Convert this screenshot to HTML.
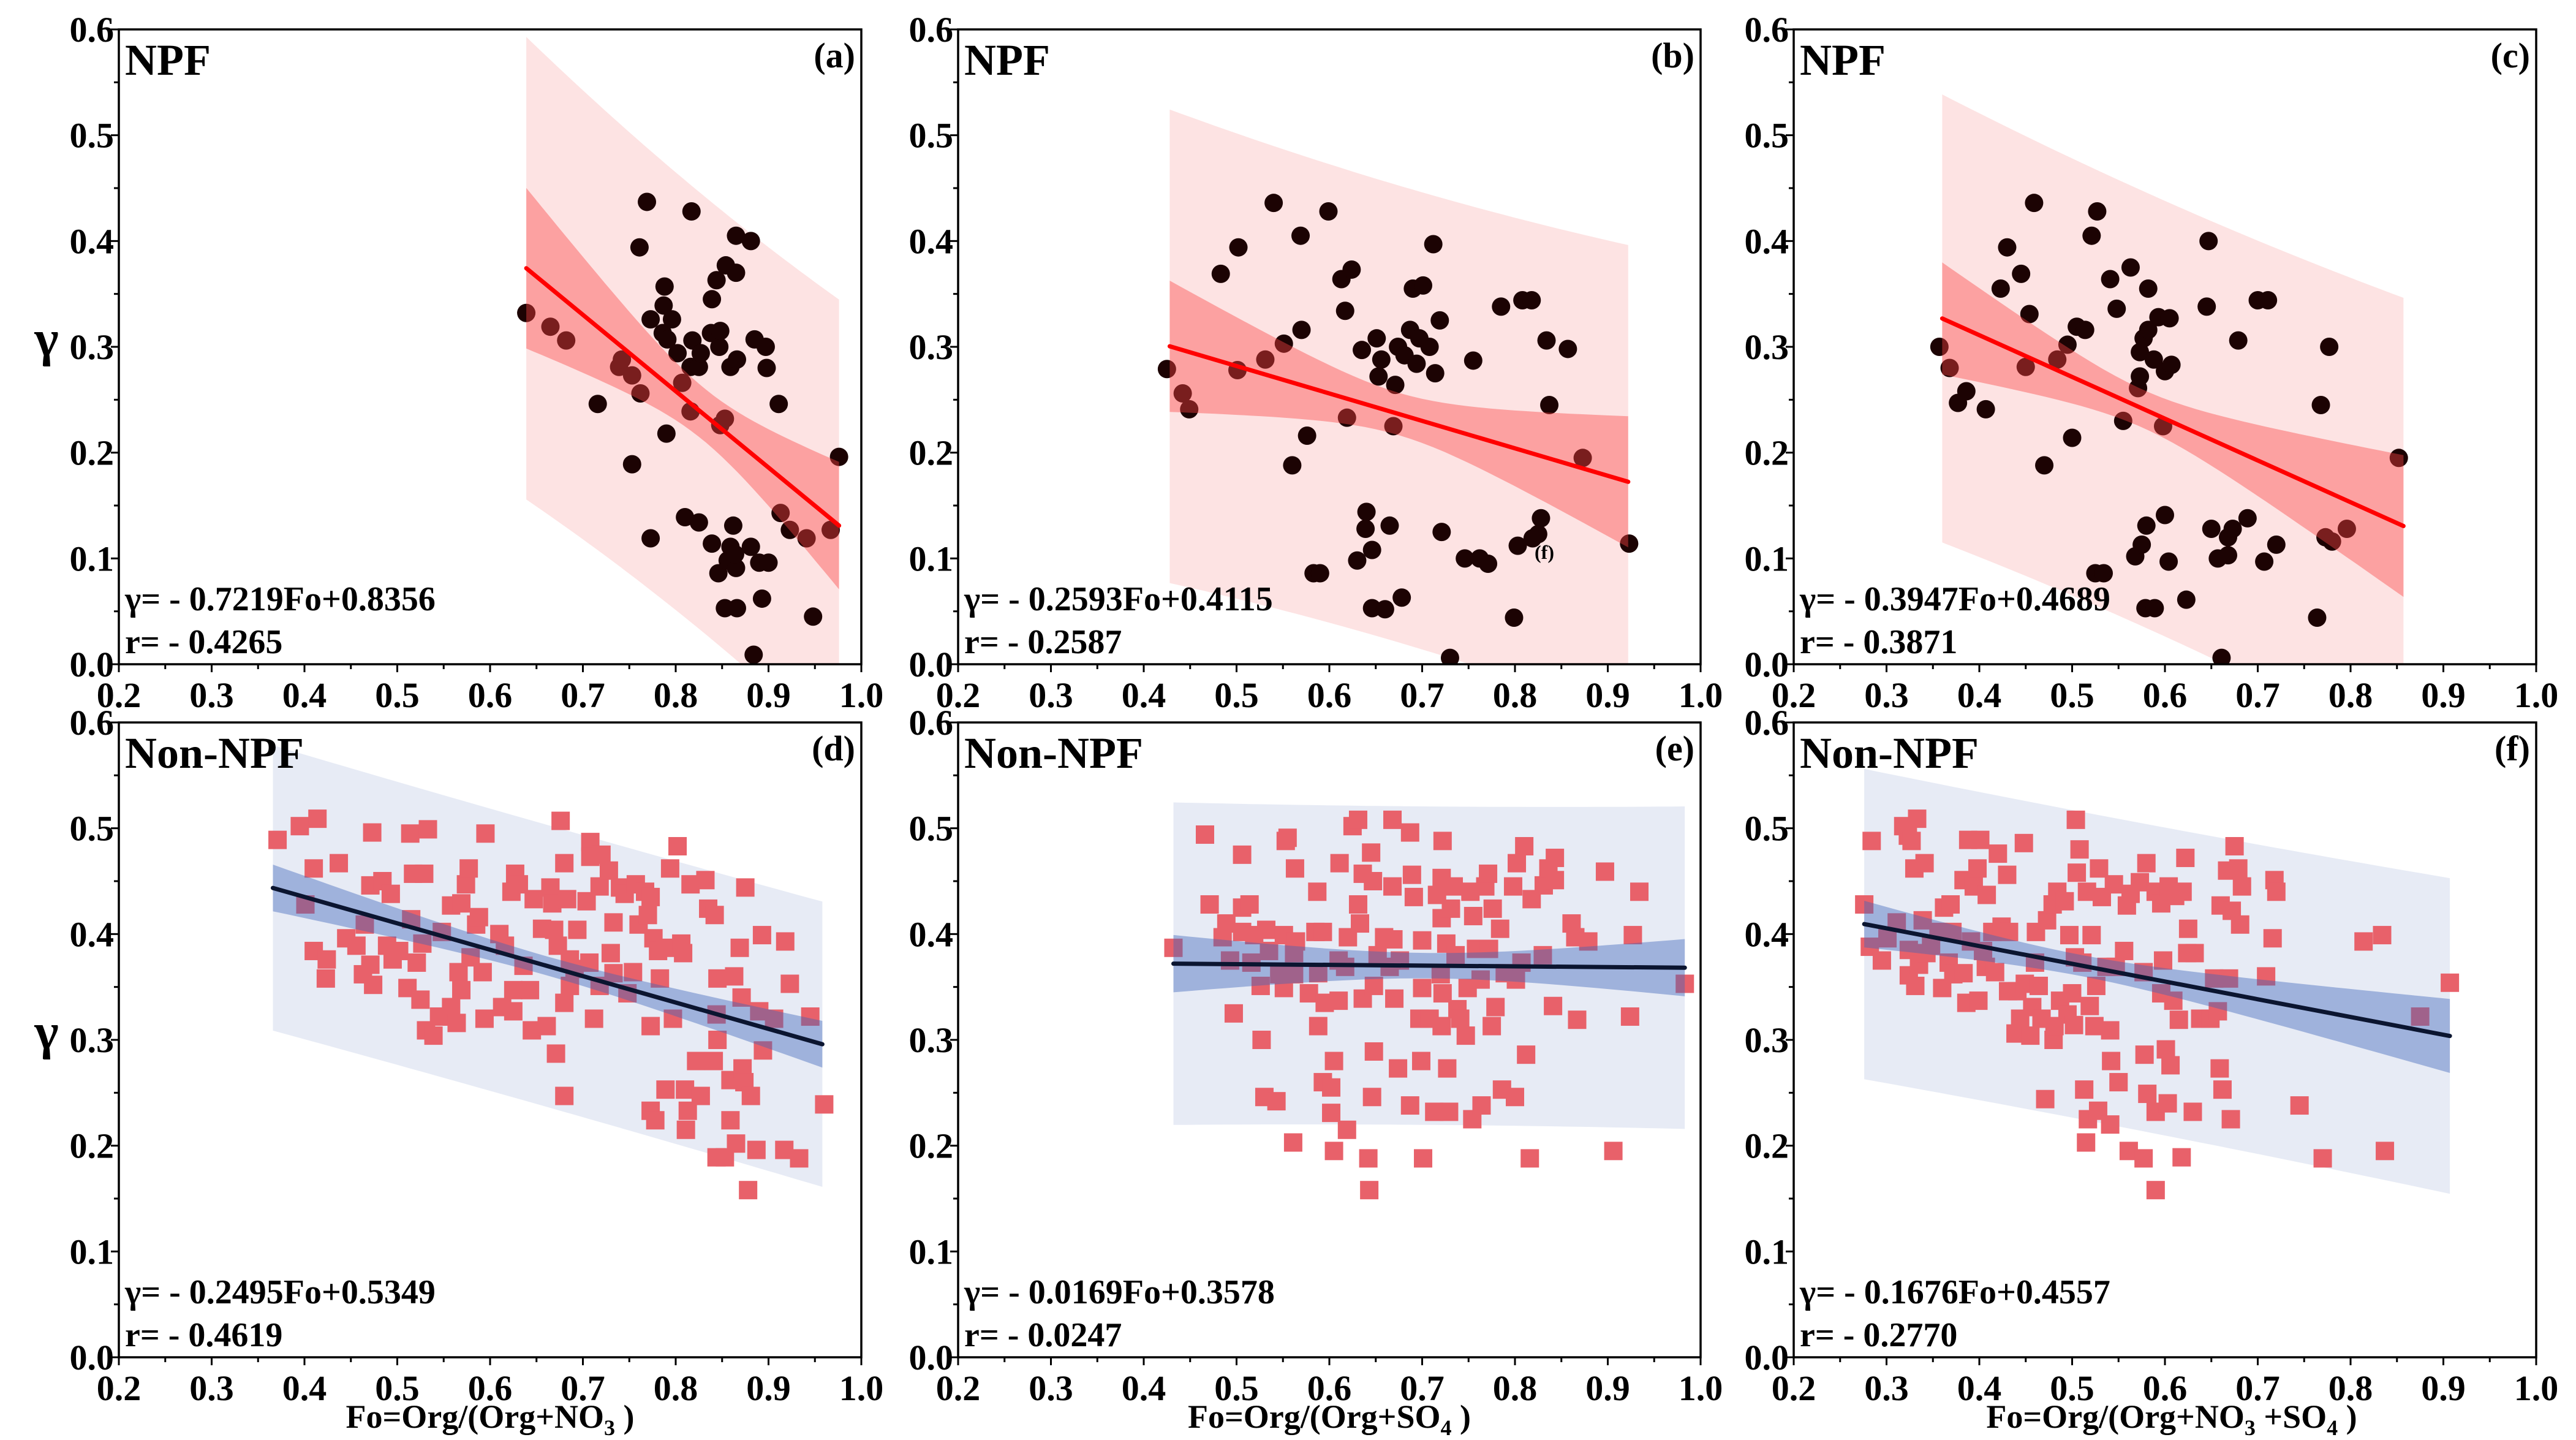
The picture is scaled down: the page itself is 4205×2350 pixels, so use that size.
<!DOCTYPE html>
<html><head><meta charset="utf-8"><style>
html,body{margin:0;padding:0;background:#fff;}
svg{display:block;}
svg text{font-family:"Liberation Serif","DejaVu Serif",serif;font-weight:bold;fill:#000;}
</style></head><body>
<svg id="fig" xmlns="http://www.w3.org/2000/svg" width="4205" height="2350" viewBox="0 0 4205 2350" font-family="Liberation Serif, serif" font-weight="bold"></svg>
<script>
// ---------- DATA ----------
const xTicks = [0.2,0.3,0.4,0.5,0.6,0.7,0.8,0.9,1.0];
const yTicks = [0.0,0.1,0.2,0.3,0.4,0.5,0.6];
const xTickLabels = ["0.2","0.3","0.4","0.5","0.6","0.7","0.8","0.9","1.0"];
const yTickLabels = ["0.0","0.1","0.2","0.3","0.4","0.5","0.6"];
const panelIds = ["a","b","c","d","e","f"];
const panelTitles = ["NPF","NPF","NPF","Non-NPF","Non-NPF","Non-NPF"];
const eqTexts = ["γ= - 0.7219Fo+0.8356","γ= - 0.2593Fo+0.4115","γ= - 0.3947Fo+0.4689","γ= - 0.2495Fo+0.5349","γ= - 0.0169Fo+0.3578","γ= - 0.1676Fo+0.4557"];
const rTexts = ["r= - 0.4265","r= - 0.2587","r= - 0.3871","r= - 0.4619","r= - 0.0247","r= - 0.2770"];
const fitSlopes = [-0.7219,-0.2593,-0.3947,-0.2495,-0.0069,-0.1676];
const fitIntercepts = [0.8356,0.4115,0.4689,0.5349,0.375,0.4557];
const fitXmin = [0.639,0.428,0.36,0.366,0.432,0.276];
const fitXmax = [0.976,0.922,0.857,0.958,0.983,0.907];
const ciA = [0.025,0.02,0.018,0.009,0.012,0.01];
const ciB = [0.375,0.2376,0.23,0.068,0.088,0.0842];
const ciXm = [0.83,0.675,0.5765,0.662,0.7075,0.509];
const predP = [0.205,0.215,0.205,0.133,0.15,0.145];

const ptsA = [[0.639,0.332],[0.665,0.319],[0.682,0.306],[0.716,0.246],[0.739,0.281],[0.742,0.288],[0.753,0.273],[0.753,0.189],[0.762,0.256],[0.761,0.394],[0.769,0.437],[0.773,0.326],[0.773,0.119],[0.786,0.313],[0.787,0.339],[0.788,0.357],[0.791,0.307],[0.790,0.218],[0.796,0.326],[0.802,0.294],[0.807,0.266],[0.810,0.139],[0.816,0.239],[0.817,0.428],[0.818,0.306],[0.816,0.281],[0.825,0.281],[0.827,0.294],[0.825,0.134],[0.838,0.313],[0.839,0.345],[0.839,0.114],[0.844,0.363],[0.847,0.300],[0.848,0.315],[0.848,0.226],[0.853,0.232],[0.846,0.086],[0.853,0.053],[0.854,0.377],[0.859,0.281],[0.859,0.111],[0.856,0.098],[0.862,0.131],[0.865,0.405],[0.865,0.370],[0.866,0.288],[0.865,0.091],[0.866,0.053],[0.864,0.104],[0.881,0.400],[0.881,0.111],[0.884,0.009],[0.885,0.307],[0.890,0.096],[0.893,0.062],[0.897,0.300],[0.898,0.280],[0.900,0.096],[0.911,0.246],[0.913,0.143],[0.923,0.127],[0.941,0.119],[0.948,0.045],[0.967,0.127],[0.976,0.196]];
const ptsB = [[0.425,0.279],[0.442,0.256],[0.449,0.241],[0.483,0.369],[0.501,0.278],[0.502,0.394],[0.531,0.288],[0.540,0.436],[0.551,0.303],[0.560,0.188],[0.569,0.405],[0.570,0.316],[0.576,0.216],[0.583,0.086],[0.590,0.086],[0.599,0.428],[0.613,0.364],[0.617,0.334],[0.619,0.233],[0.624,0.373],[0.630,0.098],[0.635,0.297],[0.639,0.128],[0.640,0.144],[0.646,0.108],[0.646,0.053],[0.651,0.308],[0.653,0.272],[0.656,0.288],[0.660,0.052],[0.665,0.131],[0.669,0.225],[0.671,0.264],[0.674,0.300],[0.678,0.063],[0.681,0.292],[0.687,0.316],[0.690,0.355],[0.694,0.284],[0.697,0.308],[0.701,0.358],[0.708,0.300],[0.712,0.397],[0.714,0.275],[0.719,0.325],[0.721,0.125],[0.730,0.006],[0.746,0.100],[0.755,0.287],[0.762,0.100],[0.771,0.095],[0.785,0.338],[0.799,0.044],[0.803,0.112],[0.808,0.344],[0.818,0.344],[0.819,0.119],[0.825,0.123],[0.828,0.138],[0.834,0.306],[0.837,0.245],[0.857,0.298],[0.873,0.195],[0.923,0.114]];
const ptsC = [[0.357,0.300],[0.368,0.280],[0.377,0.247],[0.386,0.258],[0.407,0.241],[0.423,0.355],[0.430,0.394],[0.445,0.369],[0.450,0.281],[0.454,0.331],[0.459,0.436],[0.470,0.188],[0.484,0.288],[0.495,0.302],[0.500,0.214],[0.505,0.319],[0.514,0.316],[0.521,0.405],[0.525,0.086],[0.534,0.086],[0.527,0.428],[0.541,0.364],[0.548,0.336],[0.555,0.230],[0.563,0.375],[0.568,0.102],[0.573,0.295],[0.571,0.261],[0.573,0.272],[0.577,0.308],[0.575,0.113],[0.580,0.131],[0.579,0.053],[0.589,0.053],[0.582,0.316],[0.582,0.355],[0.588,0.288],[0.593,0.328],[0.598,0.225],[0.600,0.277],[0.604,0.097],[0.600,0.141],[0.605,0.327],[0.607,0.283],[0.623,0.061],[0.645,0.338],[0.647,0.400],[0.650,0.128],[0.657,0.100],[0.661,0.006],[0.668,0.103],[0.668,0.120],[0.673,0.128],[0.679,0.306],[0.689,0.138],[0.700,0.344],[0.711,0.344],[0.707,0.097],[0.720,0.113],[0.764,0.044],[0.768,0.245],[0.773,0.120],[0.777,0.300],[0.780,0.116],[0.796,0.128],[0.852,0.195]];
const ptsD = [[0.371,0.489],[0.395,0.502],[0.414,0.509],[0.410,0.462],[0.401,0.428],[0.410,0.384],[0.424,0.376],[0.423,0.358],[0.437,0.467],[0.445,0.396],[0.456,0.389],[0.463,0.362],[0.465,0.409],[0.473,0.496],[0.474,0.352],[0.471,0.371],[0.471,0.446],[0.484,0.450],[0.493,0.438],[0.489,0.389],[0.495,0.376],[0.502,0.384],[0.514,0.495],[0.515,0.414],[0.511,0.349],[0.517,0.457],[0.529,0.457],[0.527,0.391],[0.521,0.373],[0.525,0.338],[0.533,0.499],[0.531,0.309],[0.539,0.304],[0.548,0.402],[0.545,0.322],[0.558,0.331],[0.558,0.427],[0.564,0.316],[0.566,0.364],[0.569,0.347],[0.574,0.447],[0.569,0.429],[0.577,0.462],[0.579,0.378],[0.585,0.409],[0.588,0.416],[0.592,0.364],[0.594,0.320],[0.595,0.495],[0.610,0.400],[0.616,0.389],[0.613,0.331],[0.623,0.440],[0.625,0.327],[0.627,0.457],[0.631,0.447],[0.625,0.347],[0.636,0.370],[0.643,0.347],[0.647,0.433],[0.645,0.309],[0.661,0.313],[0.656,0.405],[0.665,0.444],[0.667,0.429],[0.669,0.404],[0.673,0.389],[0.680,0.467],[0.676,0.507],[0.671,0.287],[0.680,0.335],[0.680,0.247],[0.683,0.433],[0.686,0.376],[0.691,0.367],[0.694,0.404],[0.686,0.351],[0.704,0.431],[0.707,0.373],[0.708,0.487],[0.708,0.473],[0.718,0.351],[0.712,0.320],[0.720,0.475],[0.718,0.445],[0.728,0.460],[0.730,0.382],[0.733,0.411],[0.733,0.363],[0.740,0.444],[0.745,0.438],[0.748,0.344],[0.754,0.364],[0.757,0.447],[0.760,0.409],[0.767,0.440],[0.770,0.418],[0.773,0.435],[0.776,0.396],[0.773,0.313],[0.781,0.384],[0.783,0.358],[0.789,0.387],[0.794,0.462],[0.773,0.233],[0.778,0.224],[0.789,0.253],[0.797,0.320],[0.802,0.483],[0.806,0.391],[0.808,0.382],[0.810,0.253],[0.813,0.233],[0.811,0.215],[0.816,0.447],[0.822,0.280],[0.827,0.247],[0.832,0.451],[0.835,0.424],[0.842,0.418],[0.841,0.280],[0.844,0.324],[0.845,0.358],[0.845,0.300],[0.844,0.189],[0.853,0.189],[0.859,0.224],[0.863,0.360],[0.865,0.202],[0.869,0.387],[0.871,0.340],[0.859,0.262],[0.872,0.273],[0.875,0.444],[0.874,0.260],[0.881,0.247],[0.878,0.158],[0.887,0.196],[0.890,0.327],[0.893,0.399],[0.894,0.290],[0.906,0.320],[0.917,0.196],[0.918,0.393],[0.923,0.353],[0.933,0.188],[0.945,0.322],[0.960,0.239]];
const ptsE = [[0.432,0.387],[0.466,0.494],[0.471,0.428],[0.485,0.397],[0.489,0.410],[0.493,0.375],[0.497,0.325],[0.506,0.475],[0.506,0.425],[0.514,0.428],[0.506,0.402],[0.516,0.373],[0.519,0.399],[0.526,0.351],[0.527,0.300],[0.530,0.246],[0.532,0.404],[0.535,0.384],[0.543,0.242],[0.546,0.362],[0.551,0.349],[0.553,0.488],[0.555,0.491],[0.551,0.399],[0.562,0.382],[0.562,0.362],[0.563,0.462],[0.564,0.393],[0.561,0.203],[0.578,0.344],[0.585,0.402],[0.587,0.440],[0.588,0.363],[0.588,0.313],[0.593,0.402],[0.595,0.335],[0.593,0.260],[0.602,0.255],[0.602,0.231],[0.605,0.280],[0.605,0.195],[0.610,0.375],[0.611,0.467],[0.610,0.337],[0.617,0.369],[0.620,0.397],[0.619,0.215],[0.625,0.502],[0.631,0.508],[0.631,0.428],[0.633,0.410],[0.636,0.339],[0.636,0.457],[0.642,0.188],[0.643,0.158],[0.645,0.477],[0.646,0.246],[0.647,0.450],[0.648,0.289],[0.648,0.351],[0.652,0.380],[0.659,0.397],[0.665,0.369],[0.668,0.445],[0.668,0.508],[0.669,0.395],[0.670,0.339],[0.674,0.273],[0.676,0.375],[0.687,0.496],[0.689,0.456],[0.687,0.238],[0.691,0.435],[0.700,0.394],[0.699,0.280],[0.701,0.188],[0.697,0.320],[0.700,0.349],[0.708,0.320],[0.713,0.232],[0.716,0.437],[0.720,0.362],[0.721,0.453],[0.722,0.488],[0.721,0.415],[0.722,0.344],[0.721,0.313],[0.726,0.391],[0.727,0.273],[0.729,0.232],[0.731,0.424],[0.734,0.445],[0.736,0.380],[0.738,0.329],[0.741,0.320],[0.747,0.304],[0.749,0.349],[0.752,0.440],[0.755,0.417],[0.754,0.225],[0.758,0.386],[0.763,0.357],[0.764,0.238],[0.768,0.445],[0.771,0.457],[0.772,0.386],[0.775,0.313],[0.776,0.424],[0.779,0.331],[0.784,0.405],[0.786,0.253],[0.789,0.363],[0.798,0.445],[0.800,0.246],[0.801,0.357],[0.802,0.467],[0.807,0.373],[0.810,0.483],[0.812,0.286],[0.816,0.188],[0.818,0.433],[0.830,0.380],[0.831,0.446],[0.836,0.462],[0.841,0.332],[0.843,0.472],[0.843,0.451],[0.861,0.410],[0.865,0.397],[0.867,0.319],[0.879,0.393],[0.897,0.459],[0.906,0.195],[0.924,0.322],[0.927,0.399],[0.934,0.440],[0.983,0.353]];
const ptsF = [[0.276,0.428],[0.282,0.388],[0.284,0.488],[0.295,0.375],[0.301,0.396],[0.311,0.411],[0.318,0.502],[0.323,0.493],[0.324,0.385],[0.324,0.361],[0.327,0.488],[0.330,0.462],[0.331,0.351],[0.333,0.509],[0.335,0.371],[0.339,0.413],[0.341,0.467],[0.343,0.382],[0.348,0.389],[0.356,0.402],[0.360,0.349],[0.362,0.425],[0.367,0.373],[0.369,0.428],[0.371,0.402],[0.372,0.362],[0.383,0.363],[0.383,0.451],[0.386,0.335],[0.388,0.489],[0.391,0.393],[0.394,0.445],[0.398,0.462],[0.399,0.337],[0.401,0.489],[0.404,0.384],[0.407,0.369],[0.408,0.437],[0.414,0.402],[0.417,0.364],[0.420,0.476],[0.424,0.407],[0.430,0.456],[0.431,0.346],[0.432,0.402],[0.439,0.306],[0.441,0.346],[0.444,0.320],[0.448,0.486],[0.449,0.353],[0.455,0.304],[0.457,0.331],[0.460,0.373],[0.461,0.402],[0.464,0.351],[0.467,0.320],[0.471,0.244],[0.473,0.413],[0.479,0.428],[0.480,0.300],[0.481,0.313],[0.484,0.440],[0.487,0.337],[0.492,0.431],[0.495,0.324],[0.497,0.399],[0.500,0.344],[0.502,0.314],[0.503,0.378],[0.504,0.508],[0.505,0.458],[0.508,0.480],[0.511,0.373],[0.513,0.253],[0.515,0.203],[0.517,0.225],[0.519,0.332],[0.516,0.440],[0.521,0.399],[0.524,0.313],[0.526,0.351],[0.528,0.233],[0.529,0.462],[0.532,0.435],[0.537,0.369],[0.541,0.220],[0.541,0.309],[0.542,0.280],[0.545,0.447],[0.547,0.369],[0.550,0.260],[0.556,0.384],[0.559,0.427],[0.561,0.195],[0.563,0.438],[0.573,0.449],[0.577,0.364],[0.577,0.188],[0.578,0.286],[0.580,0.467],[0.581,0.249],[0.590,0.232],[0.590,0.158],[0.590,0.440],[0.596,0.429],[0.596,0.344],[0.598,0.375],[0.601,0.291],[0.603,0.240],[0.604,0.445],[0.606,0.276],[0.609,0.337],[0.611,0.436],[0.615,0.319],[0.618,0.189],[0.619,0.440],[0.622,0.472],[0.624,0.382],[0.625,0.405],[0.630,0.232],[0.632,0.382],[0.638,0.320],[0.649,0.320],[0.653,0.358],[0.657,0.327],[0.659,0.273],[0.660,0.427],[0.662,0.253],[0.667,0.460],[0.669,0.358],[0.671,0.225],[0.672,0.422],[0.675,0.483],[0.679,0.462],[0.681,0.409],[0.683,0.445],[0.709,0.360],[0.716,0.396],[0.718,0.451],[0.720,0.440],[0.745,0.238],[0.770,0.188],[0.814,0.393],[0.834,0.399],[0.837,0.195],[0.875,0.322],[0.907,0.354]];
const allPts = [ptsA,ptsB,ptsC,ptsD,ptsE,ptsF];

// ---------- LAYOUT ----------
const NS = "http://www.w3.org/2000/svg";
const svg = document.getElementById('fig');
const FONT = '"Liberation Serif", "DejaVu Serif", serif';
const panelLeft = [194,1564,2928,194,1564,2928];
const panelW = 1212;
const panelTop = [48,48,48,1179,1179,1179];
const panelH = 1036;
const xTitles = [null,null,null,
  ['Fo=Org/(Org+NO','3',' )'],
  ['Fo=Org/(Org+SO','4',' )'],
  ['Fo=Org/(Org+NO','3',' +SO','4',' )']];
const xTitleCx = [0,0,0,800,2170,3545];

function mk(tag, attrs, parent){
  const e = document.createElementNS(NS, tag);
  for (const k in attrs) e.setAttribute(k, attrs[k]);
  if (tag==='text'){ e.style.fontFamily = FONT; e.style.fontWeight = 'bold'; }
  (parent||svg).appendChild(e);
  return e;
}

for (let i=0;i<6;i++){
  const L = panelLeft[i], T = panelTop[i], W = panelW, H = panelH;
  const X = v => L + (v-0.2)/0.8*W;
  const Y = v => T + H - v/0.6*H;
  const npf = i<3;
  const g = mk('g',{});
  
  
  const cp = mk('clipPath',{id:'clip'+i}, g);
  mk('rect',{x:L,y:T,width:W,height:H}, cp);
  const plot = mk('g',{'clip-path':'url(#clip'+i+')'}, g);
  
  

  const m = fitSlopes[i], c0 = fitIntercepts[i];
  const hci = x => Math.sqrt(ciA[i]*ciA[i] + ciB[i]*ciB[i]*(x-ciXm[i])*(x-ciXm[i]));
  const hpr = x => Math.sqrt(predP[i]*predP[i] + hci(x)*hci(x));
  function bandPath(hf){
    const N=40, up=[], dn=[];
    for (let k=0;k<=N;k++){
      const x = fitXmin[i] + (fitXmax[i]-fitXmin[i])*k/N;
      const y = m*x+c0;
      up.push(X(x).toFixed(1)+','+Y(y+hf(x)).toFixed(1));
      dn.unshift(X(x).toFixed(1)+','+Y(y-hf(x)).toFixed(1));
    }
    return 'M'+up.join('L')+'L'+dn.join('L')+'Z';
  }
  const pb = mk('path',{d:bandPath(hpr), fill: npf?'#fde3e3':'#e7ebf5'}, plot);
  
  

  const pts = allPts[i];
  for (const p of pts){
    let mark;
    if (npf){
      mark = mk('ellipse',{cx:X(p[0]),cy:Y(p[1]),rx:15,ry:15,fill:'#1c0303'}, plot);
    } else {
      mark = mk('rect',{x:X(p[0])-15,y:Y(p[1])-15,width:30,height:30,fill:'#e8616a'}, plot);
    }
    
    
  }

  const cb = mk('path',{d:bandPath(hci), fill: npf?'rgba(250,70,70,0.42)':'rgba(60,100,185,0.42)'}, plot);
  
  

  const ln = mk('line',{x1:X(fitXmin[i]),y1:Y(m*fitXmin[i]+c0),x2:X(fitXmax[i]),y2:Y(m*fitXmax[i]+c0),
    stroke: npf?'#ff0000':'#0b1530','stroke-width':7,'stroke-linecap':'round'}, plot);
  
  

  const fr = mk('rect',{x:L,y:T,width:W,height:H,fill:'none',stroke:'#000','stroke-width':3.5}, g);
  
  

  for (let k=0;k<=16;k++){
    const v = 0.2+k*0.05, px = X(v), major = k%2===0;
    mk('line',{x1:px,y1:T+H,x2:px,y2:T+H+(major?13:8),stroke:'#000','stroke-width':3}, g);
  }
  xTicks.forEach((v,k)=>{
    const t = mk('text',{x:X(v),y:T+H+70,'text-anchor':'middle','font-size':58}, g);
    t.textContent = xTickLabels[k];
    
    
  });
  for (let k=0;k<=12;k++){
    const v = k*0.05, py = Y(v), major = k%2===0;
    mk('line',{x1:L,y1:py,x2:L-(major?13:8),y2:py,stroke:'#000','stroke-width':3}, g);
  }
  yTicks.forEach((v,k)=>{
    const t = mk('text',{x:L-8,y:Y(v)+20,'text-anchor':'end','font-size':58}, g);
    t.textContent = yTickLabels[k];
    
    
  });

  const tt = mk('text',{x:L+10,y:T+74,'font-size':72}, g);
  tt.textContent = panelTitles[i];
  
  

  const pl = mk('text',{x:L+W-10,y:T+62,'text-anchor':'end','font-size':58}, g);
  pl.textContent = '('+panelIds[i]+')';
  
  

  const eq = mk('text',{x:L+10,y:T+H-88,'font-size':56}, g);
  eq.textContent = eqTexts[i];
  
  
  const rt = mk('text',{x:L+10,y:T+H-18,'font-size':56}, g);
  rt.textContent = rTexts[i];
  
  

  if (i===0 || i===3){
    const yl = mk('text',{x:L-118,y:T+H/2+14,'text-anchor':'middle','font-size':84}, g);
    yl.textContent = 'γ';
    
    
  }
  if (xTitles[i]){
    const xt = mk('text',{x:xTitleCx[i],y:T+H+115,'text-anchor':'middle','font-size':54}, g);
    
    
    xTitles[i].forEach((s,k)=>{
      const ts = mk('tspan',{}, xt);
      if (k%2===1){ ts.setAttribute('font-size','36'); ts.setAttribute('dy','12'); }
      else if (k>0){ ts.setAttribute('dy','-12'); }
      ts.textContent = s;
    });
  }
}
const st = mk('text',{x:2505,y:912,'font-size':32});
st.textContent = '(f)';


</script>
</body></html>
